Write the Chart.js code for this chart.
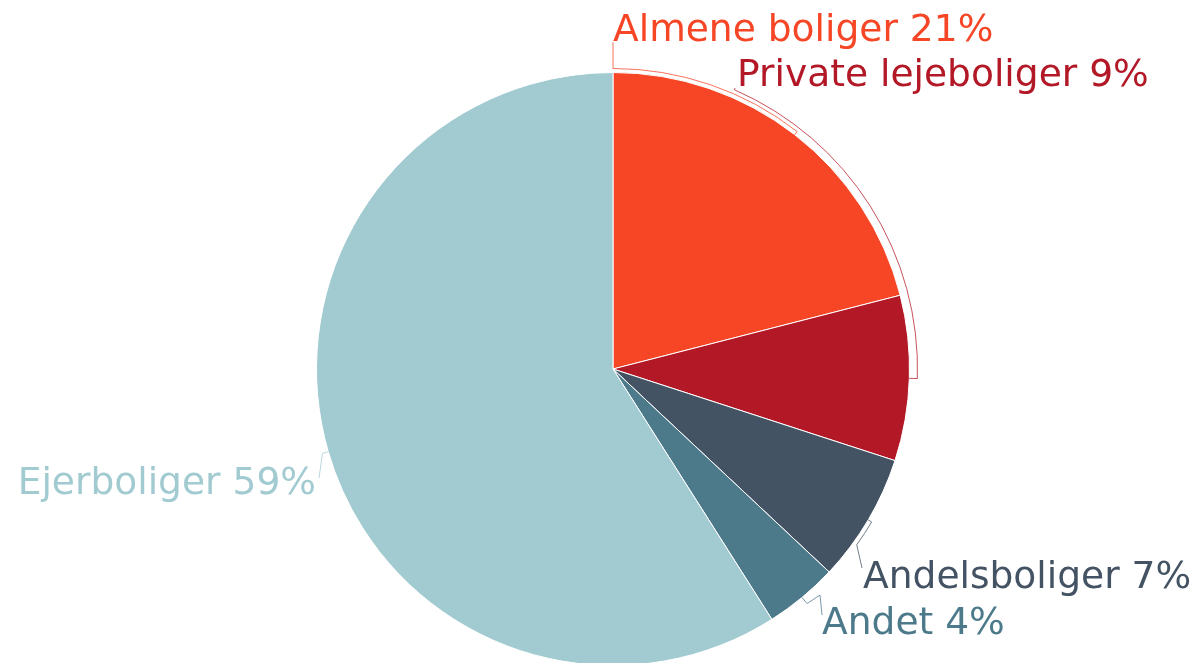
<!DOCTYPE html>
<html>
<head>
<meta charset="utf-8">
<script src="https://cdn.jsdelivr.net/npm/chart.js@4"></script>
<style>
  html,body{margin:0;padding:0;background:#fff;overflow:hidden}
  #wrap{width:1197px;height:680px;position:relative}
</style>
</head>
<body>
<div id="wrap"><canvas id="pieChart"></canvas></div>
<script>
const kategorier=['Almene boliger','Private lejeboliger','Andelsboliger','Andet','Ejerboliger'];
const andele=[21,9,7,4,59];
const farver=['#F64626','#B31827','#435363','#4C7A8B','#A2CBD1'];

// label placement relative to pie centre (px); leader: gap out from rim, arc to angle, then points
const labelPos=[
  {dx:0,dy:-328,align:'left',gap:4,arcTo:-90,pts:[[0,-327]]},
  {dx:124,dy:-283,align:'left',gap:8,arcTo:-66.5,pts:[[122,-281]]},
  {dx:250,dy:219,align:'left',gap:4,arcTo:35.8,pts:[[249,199]]},
  {dx:209,dy:265,align:'left',gap:8,arcTo:50.3,pts:[[207,226],[209,246]]},
  {dx:-297,dy:125,align:'right',gap:6,arcTo:null,pts:[[-294,109]]}
];

const pieLabels={
  id:'pieLabels',
  afterDatasetsDraw(chart){
    const ctx=chart.ctx;
    const meta=chart.getDatasetMeta(0);
    ctx.save();
    meta.data.forEach((arc,i)=>{
      const p=labelPos[i];
      const cx=arc.x, cy=arc.y, r=arc.outerRadius;
      const mid=(arc.startAngle+arc.endAngle)/2;
      const r2=r+p.gap;
      ctx.beginPath();
      ctx.strokeStyle=farver[i];
      ctx.globalAlpha=0.75;
      ctx.lineWidth=1;
      ctx.moveTo(cx+r*Math.cos(mid),cy+r*Math.sin(mid));
      ctx.lineTo(cx+r2*Math.cos(mid),cy+r2*Math.sin(mid));
      if(p.arcTo!==null){
        const a2=p.arcTo*Math.PI/180;
        ctx.arc(cx,cy,r2,mid,a2,a2<mid);
      }
      p.pts.forEach(q=>ctx.lineTo(cx+q[0],cy+q[1]));
      ctx.stroke();
      ctx.globalAlpha=1;
      ctx.font='37.6px "DejaVu Sans", Verdana, sans-serif';
      ctx.fillStyle=farver[i];
      ctx.textAlign=p.align;
      ctx.textBaseline='alphabetic';
      ctx.fillText(kategorier[i]+' '+andele[i]+'%',cx+p.dx,cy+p.dy);
    });
    ctx.restore();
  }
};

new Chart(document.getElementById('pieChart'),{
  type:'pie',
  data:{
    labels:kategorier,
    datasets:[{
      data:andele,
      backgroundColor:farver,
      borderColor:'#ffffff',
      borderWidth:1
    }]
  },
  options:{
    responsive:true,
    maintainAspectRatio:false,
    animation:false,
    events:[],
    layout:{padding:{top:72,bottom:14,left:316,right:287}},
    plugins:{
      legend:{display:false},
      tooltip:{enabled:false}
    }
  },
  plugins:[pieLabels]
});
</script>
</body>
</html>
